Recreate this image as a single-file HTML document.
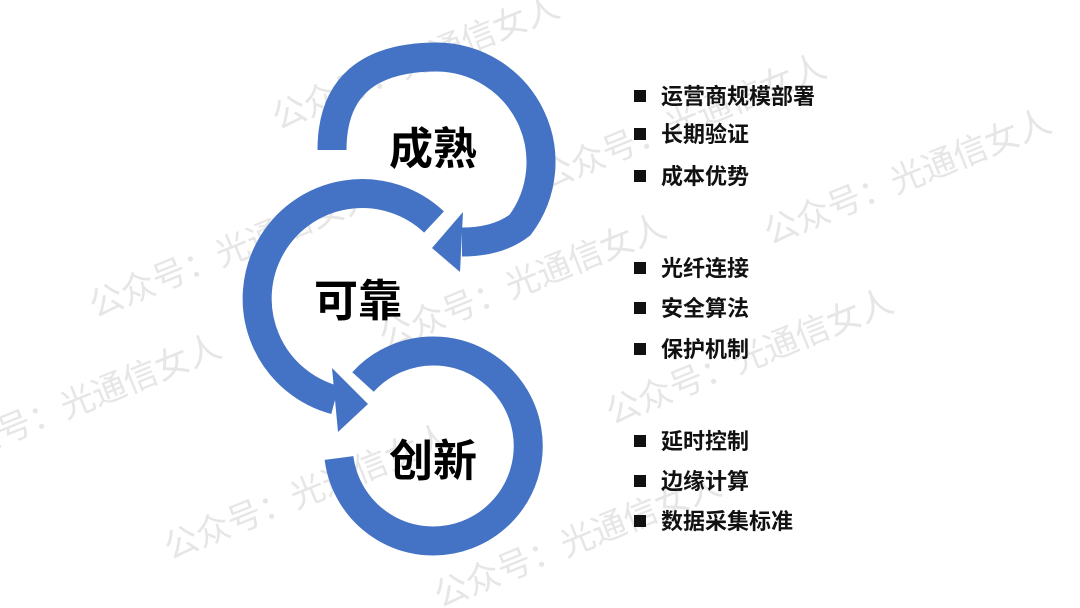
<!DOCTYPE html>
<html><head><meta charset="utf-8"><style>
html,body{margin:0;padding:0;background:#fff;}
body{width:1080px;height:608px;overflow:hidden;position:relative;font-family:"Liberation Sans","Noto Sans CJK SC",sans-serif;}
</style></head><body>
<svg width="1080" height="608" viewBox="0 0 1080 608" style="position:absolute;left:0;top:0">
<g font-family="Liberation Sans, Noto Sans CJK SC, sans-serif" font-size="34" fill="#e6e6e6">
<text transform="translate(278,130) rotate(-22)">公众号：光通信女人</text>
<text transform="translate(545,190) rotate(-22)">公众号：光通信女人</text>
<text transform="translate(770,245) rotate(-22)">公众号：光通信女人</text>
<text transform="translate(95,318) rotate(-22)">公众号：光通信女人</text>
<text transform="translate(385,350) rotate(-22)">公众号：光通信女人</text>
<text transform="translate(612,425) rotate(-22)">公众号：光通信女人</text>
<text transform="translate(-60,470) rotate(-22)">公众号：光通信女人</text>
<text transform="translate(170,560) rotate(-22)">公众号：光通信女人</text>
<text transform="translate(440,608) rotate(-22)">公众号：光通信女人</text>
</g>
<g fill="none" stroke="#4472c4" stroke-width="29">
<path d="M332,150 Q332,57 437,57 A105,105 0 0 1 520,225 Q498,242 462,242"/>
<path d="M434,222 A105,105 0 1 0 335,400"/>
<path d="M363,382 A95,95 0 1 1 339,458"/>
</g>
<g fill="#4472c4">
<polygon points="463,212 460,272 432,248"/>
<polygon points="332,368 338,432 368,404"/>
</g>
<g font-family="Liberation Sans, Noto Sans CJK SC, sans-serif" font-weight="bold" font-size="44" fill="#000">
<text x="389" y="164">成熟</text>
<text x="314" y="316">可靠</text>
<text x="389" y="476">创新</text>
</g>
<g font-family="Liberation Sans, Noto Sans CJK SC, sans-serif" font-weight="bold" font-size="22" fill="#111">
<rect x="634" y="90" width="12" height="12"/><text x="661" y="104">运营商规模部署</text>
<rect x="634" y="128" width="12" height="12"/><text x="661" y="142">长期验证</text>
<rect x="634" y="170" width="12" height="12"/><text x="661" y="184">成本优势</text>
<rect x="634" y="262" width="12" height="12"/><text x="661" y="276">光纤连接</text>
<rect x="634" y="302" width="12" height="12"/><text x="661" y="316">安全算法</text>
<rect x="634" y="343" width="12" height="12"/><text x="661" y="357">保护机制</text>
<rect x="634" y="435" width="12" height="12"/><text x="661" y="449">延时控制</text>
<rect x="634" y="475" width="12" height="12"/><text x="661" y="489">边缘计算</text>
<rect x="634" y="515" width="12" height="12"/><text x="661" y="529">数据采集标准</text>
</g>
</svg>
</body></html>
